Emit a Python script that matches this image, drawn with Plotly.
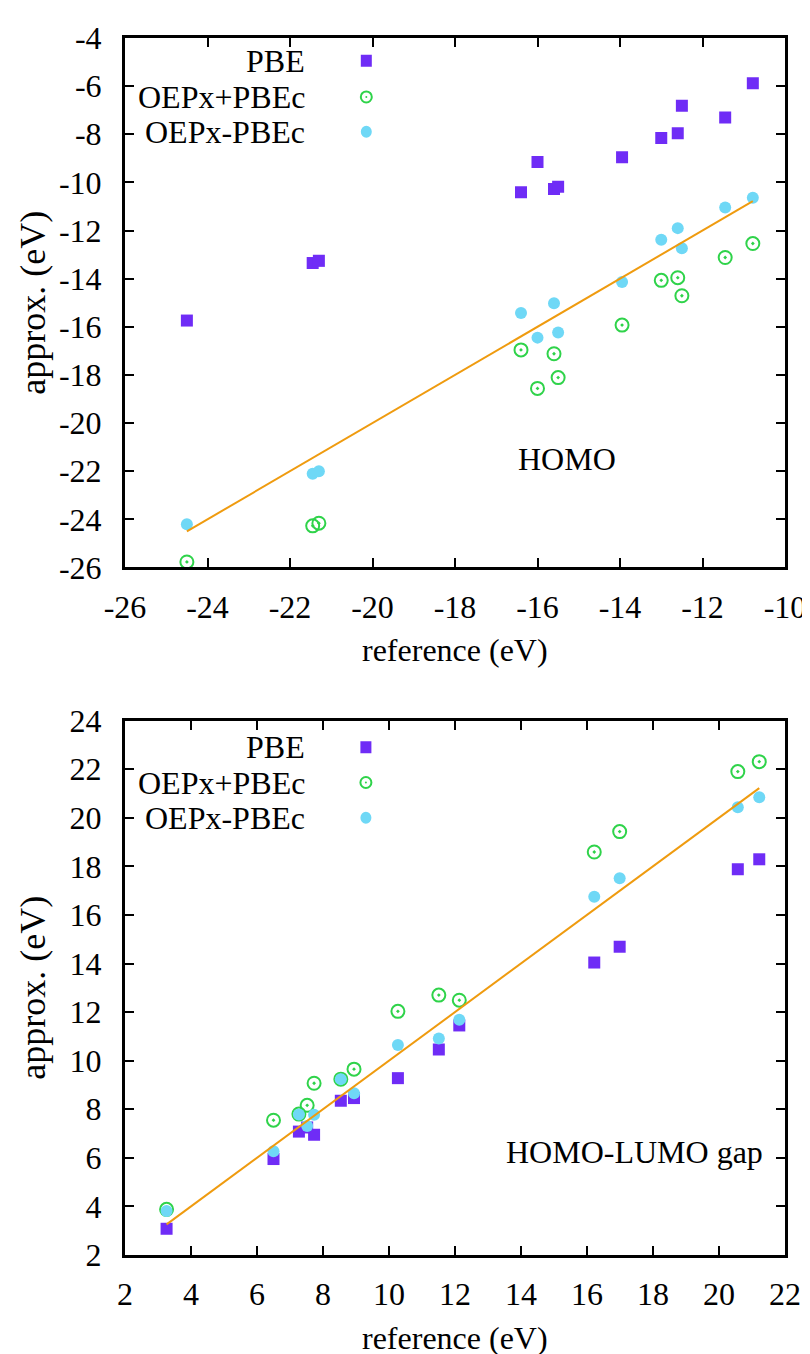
import plotly.graph_objects as go

# ---------------- data ----------------
# HOMO panel (eV)
homo_ref = [-24.50, -21.45, -21.30, -16.40, -16.00, -15.60, -15.50, -13.95, -13.00, -12.60, -12.50, -11.45, -10.78]
homo_pbe = [-15.74, -13.35, -13.26, -10.41, -9.15, -10.27, -10.18, -8.95, -8.16, -7.96, -6.82, -7.30, -5.88]
homo_oepx_plus = [-25.77, -24.27, -24.16, -16.96, -18.56, -17.12, -18.11, -15.93, -14.07, -13.96, -14.71, -13.12, -12.54]
homo_oepx_minus = [-24.20, -22.11, -22.00, -15.43, -16.45, -15.02, -16.24, -14.14, -12.38, -11.90, -12.74, -11.04, -10.64]

# HOMO-LUMO gap panel (eV)
gap_ref = [3.26, 6.50, 7.27, 7.52, 7.73, 8.54, 8.94, 10.27, 11.51, 12.13, 16.22, 16.99, 20.57, 21.22]
gap_pbe = [3.08, 5.95, 7.08, 7.25, 6.95, 8.35, 8.46, 9.28, 10.46, 11.45, 14.04, 14.69, 17.88, 18.29]
gap_oepx_plus = [3.88, 7.55, 7.80, 8.16, 9.07, 9.24, 9.65, 12.03, 12.70, 12.49, 18.59, 19.43, 21.90, 22.31]
gap_oepx_minus = [3.81, 6.27, 7.78, 7.31, 7.77, 9.24, 8.66, 10.64, 10.91, 11.68, 16.75, 17.51, 20.43, 20.84]

series_names = ["PBE", "OEPx+PBEc", "OEPx-PBEc"]

homo_xticks = [-26, -24, -22, -20, -18, -16, -14, -12, -10]
homo_yticks = [-26, -24, -22, -20, -18, -16, -14, -12, -10, -8, -6, -4]
gap_xticks = [2, 4, 6, 8, 10, 12, 14, 16, 18, 20, 22]
gap_yticks = [2, 4, 6, 8, 10, 12, 14, 16, 18, 20, 22, 24]
homo_xticktext = [str(v) for v in homo_xticks]
homo_yticktext = [str(v) for v in homo_yticks]
gap_xticktext = [str(v) for v in gap_xticks]
gap_yticktext = [str(v) for v in gap_yticks]

axis_title_x = "reference (eV)"
axis_title_y = "approx. (eV)"
panel_labels = ["HOMO", "HOMO-LUMO gap"]

# ---------------- style ----------------
FONT = "Liberation Serif, Times New Roman, serif"
FS = 32
FS_XT = 32
FS_YT = 36
C_PBE = "#6f2cf6"
C_PLUS = "#2fd34a"
C_MINUS = "#6fd8f6"
C_LINE = "#ef9b0f"

fig = go.Figure()


def add_panel(xa, ya, ref, pbe, plus, minus):
    fig.add_trace(go.Scatter(x=ref, y=pbe, mode="markers", name=series_names[0],
                             marker=dict(symbol="square", size=12, color=C_PBE, line=dict(width=0)),
                             xaxis=xa, yaxis=ya, showlegend=False))
    fig.add_trace(go.Scatter(x=ref, y=plus, mode="markers", name=series_names[1],
                             marker=dict(symbol="circle-open-dot", size=13, color=C_PLUS,
                                         line=dict(width=2, color=C_PLUS)),
                             xaxis=xa, yaxis=ya, showlegend=False))
    fig.add_trace(go.Scatter(x=ref, y=minus, mode="markers", name=series_names[2],
                             marker=dict(symbol="circle", size=12, color=C_MINUS, line=dict(width=0)),
                             xaxis=xa, yaxis=ya, showlegend=False))
    lo, hi = min(ref), max(ref)
    fig.add_trace(go.Scatter(x=[lo, hi], y=[lo, hi], mode="lines",
                             line=dict(color=C_LINE, width=2),
                             xaxis=xa, yaxis=ya, showlegend=False, hoverinfo="skip"))


add_panel("x", "y", homo_ref, homo_pbe, homo_oepx_plus, homo_oepx_minus)
add_panel("x2", "y2", gap_ref, gap_pbe, gap_oepx_plus, gap_oepx_minus)

W, H = 810, 1354
ML, MR, MT, MB = 117, 20, 15, 107
ph = H - MT - MB
top_dom = [(1247 - 551) / ph, 1.0]
bot_dom = [0.0, (1247 - 706) / ph]

axis_common = dict(showline=True, linecolor="black", linewidth=3, mirror="ticks",
                   ticks="inside", ticklen=9, tickwidth=2, tickcolor="black",
                   showgrid=False, zeroline=False,
                   tickfont=dict(family=FONT, size=FS, color="black"))

fig.update_layout(
    width=W, height=H,
    margin=dict(l=ML, r=MR, t=MT, b=MB),
    paper_bgcolor="white", plot_bgcolor="white",
    font=dict(family=FONT, size=FS, color="black"),
    xaxis=dict(domain=[0, 1], range=[-26, -10], tickvals=homo_xticks, ticktext=homo_xticktext,
               anchor="y", ticklabelstandoff=9, **axis_common),
    yaxis=dict(domain=top_dom, range=[-26, -4], tickvals=homo_yticks, ticktext=homo_yticktext,
               anchor="x", ticklabelstandoff=14, **axis_common),
    xaxis2=dict(domain=[0, 1], range=[2, 22], tickvals=gap_xticks, ticktext=gap_xticktext,
                anchor="y2", ticklabelstandoff=9, **axis_common),
    yaxis2=dict(domain=bot_dom, range=[2, 24], tickvals=gap_yticks, ticktext=gap_yticktext,
                anchor="x2", ticklabelstandoff=14, **axis_common),
    showlegend=False,
)

annotations = []
shapes = []
for xa, ya in (("x", "y"), ("x2", "y2")):
    xd = ("x domain" if xa == "x" else "x2 domain")
    yd = ("y domain" if ya == "y" else "y2 domain")
    annotations.append(dict(text=axis_title_x, xref=xd, yref=yd, x=0.5, y=0, yshift=-83,
                            xanchor="center", yanchor="middle", showarrow=False,
                            font=dict(family=FONT, size=FS_XT)))
    annotations.append(dict(text=axis_title_y, xref=xd, yref=yd, x=0, y=0.5, xshift=-92,
                            xanchor="center", yanchor="middle", textangle=-90, showarrow=False,
                            font=dict(family=FONT, size=FS_YT)))

# panel labels
annotations.append(dict(text=panel_labels[0], xref="x", yref="y", x=-15.28, y=-21.5,
                        xanchor="center", yanchor="middle", showarrow=False,
                        font=dict(family=FONT, size=FS)))
annotations.append(dict(text=panel_labels[1], xref="x2", yref="y2", x=21.4, y=6.23,
                        xanchor="right", yanchor="middle", showarrow=False,
                        font=dict(family=FONT, size=FS)))

# legends (gnuplot style: text right-aligned, key sample on the right)
legend_specs = [
    ("x", "y", -21.6, -20.15, [-4.95, -6.45, -7.9]),
    ("x2", "y2", 7.5, 9.3, [22.9, 21.45, 20.0]),
]
for xa, ya, xt, xk, ys in legend_specs:
    for name, yy, kind in zip(series_names, ys, ["sq", "open", "dot"]):
        annotations.append(dict(text=name, xref=xa, yref=ya, x=xt, y=yy, xanchor="right",
                                yanchor="middle", showarrow=False, font=dict(family=FONT, size=FS)))
        base = dict(xref=xa, yref=ya, xsizemode="pixel", ysizemode="pixel", xanchor=xk, yanchor=yy)
        if kind == "sq":
            shapes.append(dict(type="rect", x0=-5.5, x1=5.5, y0=-6, y1=6,
                               fillcolor=C_PBE, line=dict(width=0), **base))
        elif kind == "open":
            shapes.append(dict(type="circle", x0=-5.5, x1=5.5, y0=-5.5, y1=5.5,
                               fillcolor="rgba(0,0,0,0)", line=dict(width=2, color=C_PLUS), **base))
            shapes.append(dict(type="circle", x0=-1, x1=1, y0=-1, y1=1,
                               fillcolor=C_PLUS, line=dict(width=0), **base))
        else:
            shapes.append(dict(type="circle", x0=-5.5, x1=5.5, y0=-6, y1=6,
                               fillcolor=C_MINUS, line=dict(width=0), **base))

fig.update_layout(annotations=annotations, shapes=shapes)
fig.write_html("out.html")
